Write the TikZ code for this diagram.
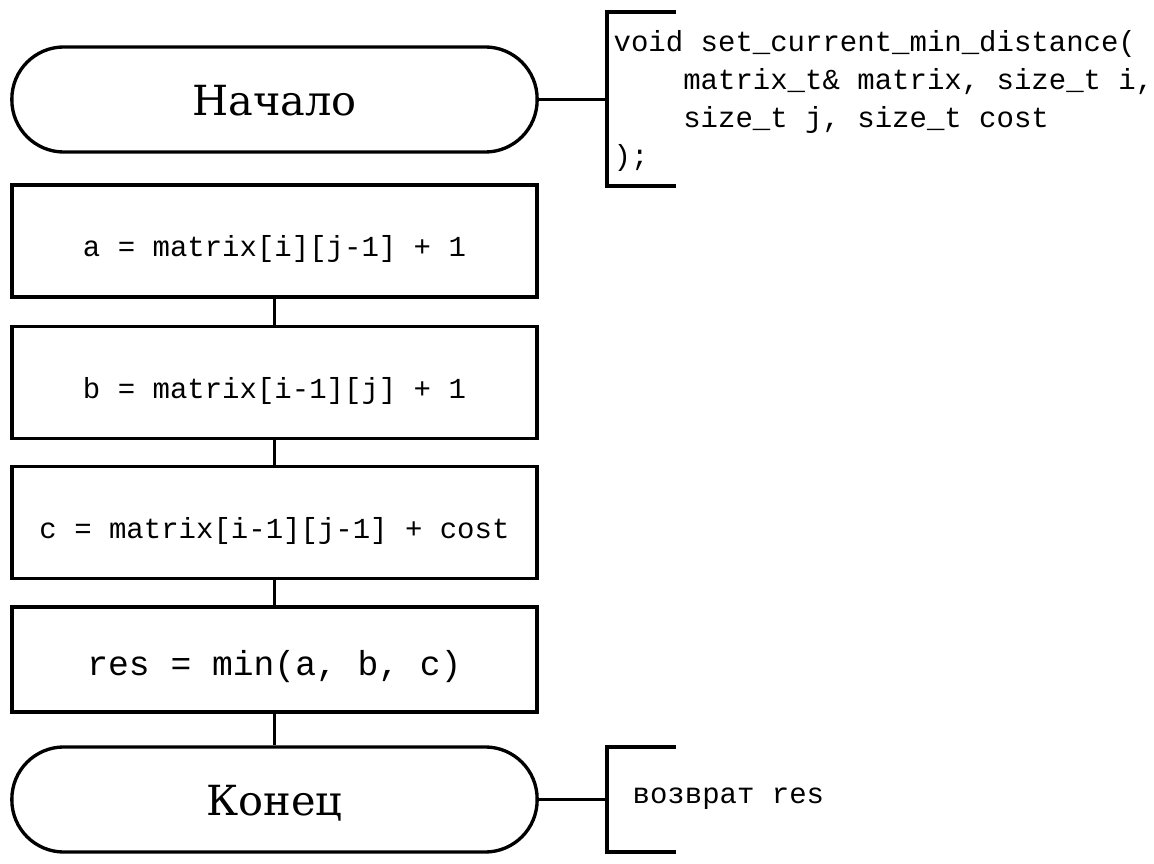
\documentclass[tikz,border=0pt]{standalone}
\usepackage{fontspec}
\setmainfont{DejaVu Serif}
\setmonofont{Liberation Mono}

\newcommand{\codesize}{\fontsize{8.25}{10.8}\selectfont}
\newcommand{\ind}{\hspace*{2.4em}}

\begin{document}
\begin{tikzpicture}[
	x=0.01cm, y=-0.01cm,
	line width=0.95pt,
	term/.style = {rectangle, draw, rounded corners=0.52cm, minimum width=5.25cm, minimum height=1.05cm, inner sep=0, text height=1.03em, text depth=0.1em, font=\fontsize{11.8}{14}\selectfont},
	act/.style = {rectangle, draw, minimum width=5.25cm, minimum height=1.12cm, inner sep=0, text height=1.05em, text depth=0.15em, font=\ttfamily\codesize},
	note/.style = {inner sep=0, align=left, font=\ttfamily\codesize}
	]
	\useasboundingbox (0, 0) rectangle (1154, 864);
	
	% ===== ===== ===== ===== =====
	
	% Nodes
	\node[term]	(start)	at	(274.5, 99.5)	{Начало};
	\node[act]	(s1)	at	(274.5, 241)	{a = matrix[i][j-1] + 1};
	\node[act]	(s2)	at	(274.5, 382.5)	{b = matrix[i-1][j] + 1};
	\node[act]	(s3)	at	(274.5, 522.5)	{c = matrix[i-1][j-1] + cost};
	\node[act, minimum height=1.05cm, font=\ttfamily\fontsize{9.85}{12}\selectfont]
				(s4)	at	(274.5, 659.5)	{res = min(a, b, c)};
	\node[term]	(fin)	at	(274.5, 799.5)	{Конец};
	
	% Lines
	\draw	(s1.south)	--	(s2.north);
	\draw	(s2.south)	--	(s3.north);
	\draw	(s3.south)	--	(s4.north);
	\draw	(s4.south)	--	(fin.north);
	
	% ===== ===== ===== ===== =====
	
	% Comments
	\coordinate	(c1)	at	(607, 99.5);
	\node[note, anchor=north west]	(n1)	at	(612, 29)
		{void set\_current\_min\_distance(\\
		\ind matrix\_t\& matrix, size\_t i,\\
		\ind size\_t j, size\_t cost\\
		);};
	\draw	(start.east)	--	(c1);
	\draw	(676, 12)	--	(607, 12)	--	(607, 186)	--	(676, 186);
	
	\coordinate	(c2)	at	(607, 799.5);
	\node[note, anchor=base west]	(n2)	at	(631, 804)	{возврат res};
	\draw	(fin.east)	--	(c2);
	\draw	(676, 747)	--	(607, 747)	--	(607, 852)	--	(676, 852);
	
\end{tikzpicture}
\end{document}
